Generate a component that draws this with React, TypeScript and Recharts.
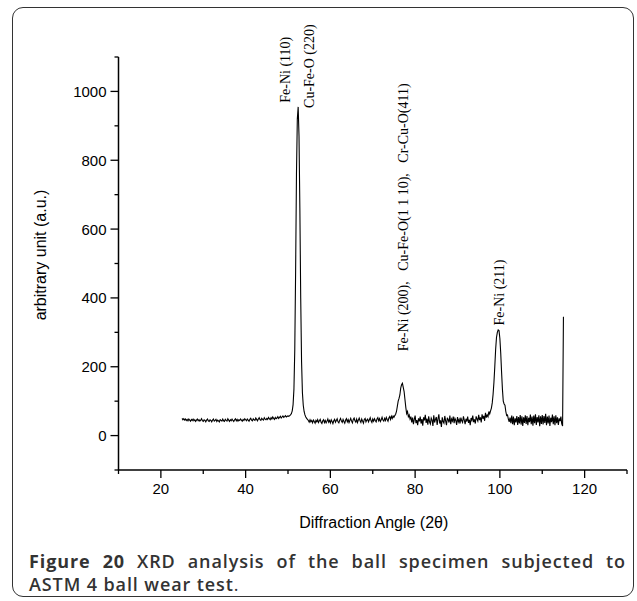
import React from 'react';
import { LineChart, Line, XAxis, YAxis, ReferenceDot } from 'recharts';

// XRD scan: starting angle and step of the goniometer scan (2θ, degrees)
const START_ANGLE = 25;
const STEP = 0.2;

// Intensities, segment by segment (arbitrary units)
const bgLow = [
  50, 46, 49, 45, 48, 44, 47, 43, 48, 45,
  42, 47, 44, 48, 43, 46, 41, 45, 48, 43,
  46, 42, 45, 49, 43, 41, 46, 44, 40, 45,
  48, 43, 41, 46, 44, 40, 45, 48, 42, 44,
  47, 41, 45, 43, 40, 46, 44, 42, 48, 43,
  41, 47, 44, 42, 49, 45, 41, 46, 43, 48,
  44, 41, 46, 49, 43, 47, 42, 46, 44, 48,
  45, 42, 47, 44, 49, 46, 43, 48, 45, 42,
  47, 50, 45, 43, 49, 46, 44, 51, 47, 43,
  48, 52, 46, 44, 50, 47, 45, 52, 48, 46,
  50, 47, 53, 49, 46, 52, 48, 54, 50, 47,
  53, 49, 51, 55, 50, 53, 56, 51, 54, 57,
  53, 55, 58, 54, 56, 57,
];
const peak110 = [
  56, 58, 60, 64, 72, 90, 135, 250, 480, 760, 920, 955,
  870, 660, 400, 215, 125, 88, 70, 60, 54, 50, 47,
];
const bgMid = [
  44, 39, 46, 40, 44, 37, 45, 41, 36, 44,
  40, 46, 38, 43, 47, 39, 35, 43, 46, 38,
  44, 37, 42, 48, 39, 44, 37, 46, 41, 35,
  43, 47, 39, 44, 49, 40, 37, 45, 50, 42,
  38, 47, 41, 36, 45, 49, 40, 46, 38, 44,
  50, 42, 37, 47, 51, 43, 39, 48, 38, 45,
  51, 43, 38, 48, 42, 36, 47, 50, 40, 45,
  48, 40, 46, 52, 43, 38, 48, 42, 49, 44,
  40, 48, 52, 43, 49, 41, 46, 53, 45, 42,
  50, 44, 53, 47, 42, 51, 55, 47, 56, 50,
  57, 53,
];
const peak200 = [
  58, 62, 70, 85, 100, 108, 118, 138, 148, 152,
  140, 128, 105, 82, 64, 70, 55, 60, 48, 55,
];
const bgHigh = [
  38, 52, 33, 47, 58, 36, 45, 30, 50, 41,
  55, 35, 48, 29, 53, 44, 60, 37, 49, 32,
  56, 40, 34, 51, 45, 28, 59, 38, 47, 54,
  31, 49, 62, 35, 44, 25, 53, 41, 36, 57,
  43, 30, 52, 46, 38, 58, 33, 48, 42, 55,
  36, 50, 44, 31, 54, 40, 47, 35, 52, 43,
  38, 56, 45, 33, 49, 41, 55, 37, 46, 30,
  51, 44, 58, 39, 47, 35, 56, 48, 42, 60,
  45, 53, 38, 62, 49, 57, 43, 66, 52, 60,
  55, 70, 63,
];
const peak211 = [
  72, 80, 95, 120, 155, 200, 250, 285, 300, 307, 305,
  282, 240, 185, 135, 100, 92, 88, 70, 58, 60, 48,
];
const bgTail = [
  40, 52, 36, 58, 33, 55, 30, 50, 38, 57,
  31, 54, 35, 60, 32, 56, 28, 53, 37, 59,
  34, 57, 30, 52, 39, 61, 33, 55, 29, 58,
  36, 62, 31, 54, 38, 59, 27, 56, 34, 60,
  32, 57, 37, 63, 30, 55, 35, 58, 28, 52,
  39, 61, 33, 56, 30, 59, 36, 53, 31, 50,
  42, 55, 34, 28,
];
const endSpike = [345];

const intensities = [
  ...bgLow, ...peak110, ...bgMid, ...peak200, ...bgHigh, ...peak211, ...bgTail, ...endSpike,
];
const data = intensities.map((v, i) => ({
  angle: Math.round((START_ANGLE + i * STEP) * 10) / 10,
  intensity: v,
}));

const xTicks = [10, 20, 30, 40, 50, 60, 70, 80, 90, 100, 110, 120, 130];
const xLabels = [20, 40, 60, 80, 100, 120];
const yTicks = [-100, 0, 100, 200, 300, 400, 500, 600, 700, 800, 900, 1000, 1100];
const yLabels = [0, 200, 400, 600, 800, 1000];

const peakLabelAngles = [49.4, 55.0, 77.2, 99.9];
const peakLabelHeights = [967, 952, 245, 320];
const peakLabelTexts = [
  'Fe-Ni (110)',
  'Cu-Fe-O (220)',
  'Fe-Ni (200),\u00A0\u00A0 Cu-Fe-O(1 1 10),\u00A0\u00A0 Cr-Cu-O(411)',
  'Fe-Ni (211)',
];

const SANS = '"Liberation Sans", Arial, sans-serif';
const SERIF = '"Liberation Serif", "Times New Roman", serif';

const XTick = (props: any) => {
  const { x, y, payload } = props;
  const v = payload.value;
  const major = xLabels.includes(v);
  return (
    <g>
      <line x1={x} y1={y} x2={x} y2={y + (major ? 8 : 4)} stroke="#000" strokeWidth={1.3} />
      {major && (
        <text x={x} y={y + 24} textAnchor="middle" fontFamily={SANS} fontSize={15} fill="#000">
          {v}
        </text>
      )}
    </g>
  );
};

const YTick = (props: any) => {
  const { x, y, payload } = props;
  const v = payload.value;
  const major = yLabels.includes(v);
  return (
    <g>
      <line x1={x - (major ? 8 : 4)} y1={y} x2={x} y2={y} stroke="#000" strokeWidth={1.3} />
      {major && (
        <text x={x - 12} y={y + 5.5} textAnchor="end" fontFamily={SANS} fontSize={15} fill="#000">
          {v}
        </text>
      )}
    </g>
  );
};

const makeAnnotation = (text: string) => (p: any) => (
  <text
    x={p.cx}
    y={p.cy}
    transform={`rotate(-90 ${p.cx} ${p.cy})`}
    textAnchor="start"
    dominantBaseline="central"
    fontFamily={SERIF}
    fontSize={14}
    fill="#000"
  >
    {text}
  </text>
);

export default function App() {
  return (
    <div style={{ position: 'absolute', left: 0, top: 0, width: 637, height: 601, background: '#fff' }}>
      <div
        style={{
          position: 'absolute',
          left: 12,
          top: 7,
          width: 620,
          height: 588,
          border: '1.5px solid #333',
          borderRadius: 11,
        }}
      />
      <div style={{ position: 'absolute', left: 0, top: 0 }}>
        <LineChart
          width={637}
          height={601}
          data={data}
          margin={{ top: 57, right: 10, bottom: 101, left: 58.5 }}
        >
          <XAxis
            dataKey="angle"
            type="number"
            domain={[10, 130]}
            ticks={xTicks}
            interval={0}
            tickSize={0}
            tickMargin={0}
            tick={XTick}
            height={30}
            axisLine={{ stroke: '#000', strokeWidth: 1.5 }}
            tickLine={false}
            label={{
              content: (p: any) => (
                <text
                  x={p.viewBox.x + p.viewBox.width / 2 + 1}
                  y={p.viewBox.y + 58}
                  textAnchor="middle"
                  fontFamily={SANS}
                  fontSize={16}
                  fill="#000"
                >
                  Diffraction Angle (2θ)
                </text>
              ),
            }}
          />
          <YAxis
            type="number"
            domain={[-100, 1100]}
            ticks={yTicks}
            interval={0}
            tickSize={0}
            tickMargin={0}
            tick={YTick}
            width={60}
            axisLine={{ stroke: '#000', strokeWidth: 1.5 }}
            tickLine={false}
            label={{
              content: (p: any) => {
                const cx = p.viewBox.x - 18;
                const cy = p.viewBox.y + 198;
                return (
                  <text
                    x={cx}
                    y={cy}
                    transform={`rotate(-90 ${cx} ${cy})`}
                    textAnchor="middle"
                    dominantBaseline="central"
                    fontFamily={SANS}
                    fontSize={16}
                    fill="#000"
                  >
                    arbitrary unit (a.u.)
                  </text>
                );
              },
            }}
          />
          <Line
            type="linear"
            dataKey="intensity"
            stroke="#000"
            strokeWidth={1.1}
            dot={false}
            isAnimationActive={false}
          />
          {peakLabelTexts.map((t, i) => (
            <ReferenceDot
              key={t}
              x={peakLabelAngles[i]}
              y={peakLabelHeights[i]}
              r={1}
              ifOverflow="visible"
              shape={makeAnnotation(t)}
            />
          ))}
        </LineChart>
      </div>
      <div
        style={{
          position: 'absolute',
          left: 29,
          top: 550,
          width: 597,
          fontFamily: '"Open Sans", "Noto Sans", sans-serif',
          fontSize: 18,
          letterSpacing: 0.9,
          lineHeight: '23px',
          color: '#333',
          fontWeight: 700,
        }}
      >
        <div style={{ textAlign: 'justify', textAlignLast: 'justify', whiteSpace: 'nowrap' as any }}>
          Figure 20 <span style={{ fontWeight: 600 }}>XRD analysis of the ball specimen subjected to</span>
        </div>
        <div>
          <span style={{ fontWeight: 600 }}>ASTM 4 ball wear test</span>
          <span style={{ fontWeight: 400 }}>.</span>
        </div>
      </div>
    </div>
  );
}
